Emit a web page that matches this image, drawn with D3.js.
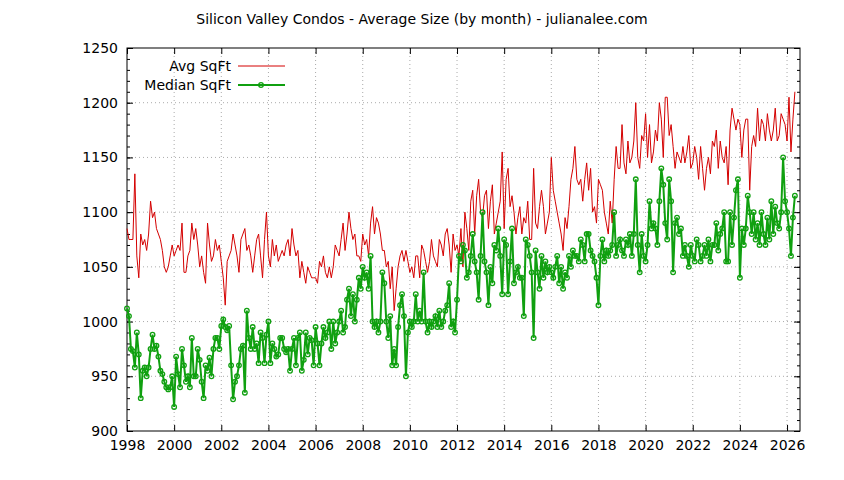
<!DOCTYPE html>
<html><head><meta charset="utf-8">
<script src="https://cdn.jsdelivr.net/npm/d3@7"></script>
<style>body{margin:0;background:#fff}text{font-family:"DejaVu Sans",sans-serif}</style>
</head><body><svg id="c" width="844" height="480"></svg>
<script>
const startYear = 1998;
const avgSqft = [
1085,1075,1075,1075,1135,1060,1040,1080,1070,1075,1065,1080,
1110,1095,1100,1085,1080,1075,1065,1050,1045,1050,1060,1070,
1060,1065,1070,1065,1090,1045,1045,1060,1065,1090,1075,1085,
1070,1050,1060,1045,1035,1090,1070,1055,1060,1075,1065,1070,
1055,1040,1015,1055,1060,1065,1080,1070,1060,1045,1075,1080,
1085,1065,1070,1060,1045,1060,1075,1080,1060,1040,1075,1100,
1060,1050,1075,1060,1070,1055,1060,1065,1060,1070,1075,1060,
1085,1070,1060,1065,1040,1055,1045,1035,1050,1045,1040,1040,
1040,1035,1055,1050,1060,1045,1040,1050,1040,1050,1070,1065,
1060,1075,1090,1065,1080,1100,1085,1075,1080,1060,1060,1055,
1080,1070,1075,1060,1090,1105,1080,1095,1090,1080,1065,1065,
1050,1055,1030,1050,1010,1030,1050,1060,1065,1055,1065,1055,
1045,1050,1040,1060,1060,1040,1070,1065,1055,1045,1055,1075,
1060,1055,1050,1075,1070,1060,1080,1085,1070,1045,1080,1065,
1070,1060,1085,1050,1100,1085,1065,1110,1120,1080,1115,1130,
1100,1095,1115,1120,1085,1110,1125,1080,1090,1100,1110,1155,
1085,1130,1140,1105,1115,1100,1080,1095,1105,1080,1095,1090,
1110,1075,1075,1140,1090,1085,1105,1120,1105,1080,1090,1100,
1150,1120,1110,1100,1090,1080,1065,1095,1085,1105,1130,1140,
1160,1130,1125,1130,1110,1130,1145,1120,1140,1100,1105,1090,
1130,1125,1120,1100,1090,1080,1110,1090,1130,1160,1140,1140,
1180,1145,1135,1165,1145,1150,1165,1200,1150,1140,1170,1165,
1190,1150,1180,1145,1155,1175,1165,1200,1185,1150,1205,1205,
1170,1180,1160,1140,1155,1150,1145,1160,1145,1155,1170,1140,
1145,1160,1150,1130,1160,1140,1120,1140,1150,1135,1165,1160,
1175,1140,1165,1150,1145,1160,1125,1175,1195,1185,1175,1185,
1180,1150,1175,1185,1185,1120,1160,1170,1160,1195,1165,1185,
1180,1165,1190,1175,1165,1175,1195,1165,1170,1190,1185,1180,
1165,1205,1155,1185,1210];
const medianSqft = [
1012,1005,975,973,958,990,970,930,955,958,950,958,
975,988,975,978,968,955,952,945,940,938,940,950,
922,968,952,940,975,960,945,950,940,985,950,950,
975,965,945,930,960,955,967,950,975,985,985,975,
996,1002,995,992,996,960,929,945,950,960,975,978,
935,1010,985,975,995,975,980,962,990,985,962,988,
1000,962,980,975,968,970,985,985,975,972,975,955,
975,985,960,985,990,955,965,990,970,985,983,960,
995,980,960,980,995,985,990,1000,975,1000,980,990,
1000,1010,990,995,1020,1030,1005,1025,1000,1020,1040,1030,
1050,1040,1045,1030,1060,1000,995,1000,990,1000,1045,1035,
1000,985,1005,960,975,960,995,1015,1025,1005,950,990,
1000,995,1000,1025,1000,1010,1000,1045,1000,990,1000,995,
1000,1005,995,1010,995,1000,1010,1015,1035,995,1000,990,
1020,1060,1055,1070,1065,1040,1045,1060,1080,1055,1045,1020,
1060,1100,1055,1045,1015,1050,1035,1070,1065,1085,1060,1025,
1075,1070,1025,1055,1085,1035,1045,1050,1040,1040,1005,1075,
1070,1060,1045,985,1065,1045,1030,1060,1040,1055,1045,1050,
1045,1040,1050,1060,1035,1050,1030,1045,1040,1060,1050,1065,
1060,1060,1055,1075,1070,1055,1080,1080,1065,1060,1055,1040,
1015,1060,1075,1055,1065,1060,1065,1070,1100,1060,1070,1075,
1065,1060,1075,1070,1080,1060,1080,1130,1070,1045,1080,1060,
1055,1070,1110,1085,1090,1085,1070,1110,1140,1125,1090,1075,
1130,1110,1045,1090,1095,1080,1085,1060,1070,1060,1050,1070,
1060,1055,1075,1070,1055,1060,1070,1060,1075,1055,1070,1070,
1090,1065,1080,1085,1100,1055,1055,1100,1070,1095,1120,1130,
1040,1085,1070,1085,1115,1100,1080,1100,1075,1090,1070,1100,
1080,1070,1095,1075,1110,1080,1105,1090,1085,1100,1150,1110,
1100,1085,1060,1095,1115];
const xTicks = d3.range(1998, 2027, 2);
const yTicks = d3.range(900, 1251, 50);

const svg = d3.select("#c");
const L=127,R=800,T=48,B=431;
const x = d3.scaleLinear().domain([1998, 2026.55]).range([L,R]);
const y = d3.scaleLinear().domain([900,1250]).range([B,T]);
const t = i => startYear + i/12;

svg.append("g").selectAll("line").data(xTicks.slice(1)).join("line")
 .attr("x1",d=>x(d)).attr("x2",d=>x(d)).attr("y1",T).attr("y2",B)
 .attr("stroke","#aaa").attr("stroke-dasharray","1,3");
svg.append("g").selectAll("line").data(yTicks.slice(1,-1)).join("line")
 .attr("x1",L).attr("x2",R).attr("y1",d=>y(d)).attr("y2",d=>y(d))
 .attr("stroke","#aaa").attr("stroke-dasharray","1,3");

const fs = "14px";
svg.append("g").attr("transform",`translate(0,${B})`)
 .call(d3.axisBottom(x).tickValues(xTicks).tickFormat(d3.format("d")).tickSize(-6).tickPadding(9));
svg.append("g").attr("transform",`translate(0,${T})`)
 .call(d3.axisTop(x).tickValues(xTicks).tickFormat("").tickSize(-6));
svg.append("g").attr("transform",`translate(${L},0)`)
 .call(d3.axisLeft(y).tickValues(yTicks).tickFormat(d3.format("d")).tickSize(-6).tickPadding(9));
svg.append("g").attr("transform",`translate(${R},0)`)
 .call(d3.axisRight(y).tickValues(yTicks).tickFormat("").tickSize(-6));
const minor = d3.range(900,1251,10);
svg.append("g").attr("transform",`translate(${L},0)`).call(d3.axisLeft(y).tickValues(minor).tickFormat("").tickSize(-3));
svg.append("g").attr("transform",`translate(${R},0)`).call(d3.axisRight(y).tickValues(minor).tickFormat("").tickSize(-3));
svg.selectAll(".domain").attr("stroke","none");
svg.selectAll(".tick line").attr("stroke","#000");
svg.selectAll(".tick text").attr("font-size",fs).attr("fill","#000").attr("font-family","'DejaVu Sans',sans-serif");
svg.append("rect").attr("x",L).attr("y",T).attr("width",R-L).attr("height",B-T).attr("fill","none").attr("stroke","#000");

svg.append("path").datum(avgSqft)
 .attr("d",d3.line().x((d,i)=>x(t(i))).y(d=>y(d)))
 .attr("fill","none").attr("stroke","#d40000").attr("stroke-width",1);
svg.append("path").datum(medianSqft)
 .attr("d",d3.line().x((d,i)=>x(t(i))).y(d=>y(d)))
 .attr("fill","none").attr("stroke","#10a010").attr("stroke-width",2);
svg.append("g").selectAll("circle").data(medianSqft).join("circle")
 .attr("cx",(d,i)=>x(t(i))).attr("cy",d=>y(d)).attr("r",2.3)
 .attr("fill","none").attr("stroke","#10a010").attr("stroke-width",1.3);

svg.append("text").attr("x",231).attr("y",71).attr("text-anchor","end").attr("font-size",fs).text("Avg SqFt");
svg.append("line").attr("x1",238).attr("x2",285).attr("y1",66).attr("y2",66).attr("stroke","#d40000");
svg.append("text").attr("x",231).attr("y",90).attr("text-anchor","end").attr("font-size",fs).text("Median SqFt");
svg.append("line").attr("x1",238).attr("x2",285).attr("y1",85).attr("y2",85).attr("stroke","#10a010").attr("stroke-width",2);
svg.append("circle").attr("cx",261).attr("cy",85).attr("r",2.3).attr("fill","none").attr("stroke","#10a010").attr("stroke-width",1.3);

svg.append("text").attr("x",422).attr("y",24).attr("text-anchor","middle").attr("font-size",fs)
 .text("Silicon Valley Condos - Average Size (by month) - julianalee.com");
</script></body></html>
